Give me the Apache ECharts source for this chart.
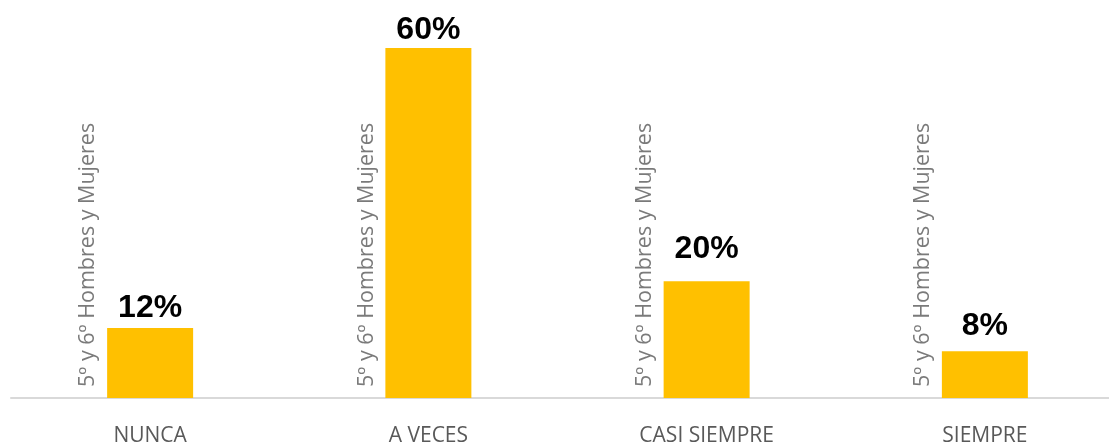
<!DOCTYPE html>
<html>
<head>
<meta charset="utf-8">
<script src="https://cdn.jsdelivr.net/npm/echarts@6/dist/echarts.min.js"></script>
<style>
  html, body { margin: 0; padding: 0; background: #fff; }
  #chart { width: 1109px; height: 443px; }
</style>
</head>
<body>
<div id="chart"></div>
<script>
var categories = ['NUNCA', 'A VECES', 'CASI SIEMPRE', 'SIEMPRE'];
var seriesName = '5º y 6º Hombres y Mujeres';
var percentValues = [12, 60, 20, 8];
var nameAnchors = [0, 0, 0, 0];

// gap between each value label and its bar (labels were nudged by hand in the original)
var labelGap = [4, 2, 16, 9];

var chart = echarts.init(document.getElementById('chart'));

chart.setOption({
  animation: false,
  grid: {
    left: 11,
    right: -15,
    top: 48,
    bottom: 45,
    outerBoundsMode: 'none'
  },
  xAxis: {
    type: 'category',
    data: categories,
    axisLine: { lineStyle: { color: '#d9d9d9', width: 2 } },
    axisTick: { show: false },
    axisLabel: {
      color: '#595959',
      fontFamily: 'Open Sans',
      fontSize: 21,
      margin: 28
    }
  },
  yAxis: {
    type: 'value',
    min: 0,
    max: 60,
    show: false,
    splitLine: { show: false }
  },
  series: [
    {
      name: seriesName,
      type: 'bar',
      barWidth: 86,
      data: percentValues.map(function (v, i) {
        return { value: v, label: { distance: labelGap[i] } };
      }),
      itemStyle: { color: '#ffc000' },
      label: {
        show: true,
        position: 'top',
        formatter: '{c}%',
        color: '#000',
        fontFamily: 'Liberation Sans',
        fontWeight: 'bold',
        fontSize: 32
      }
    },
    {
      name: seriesName,
      type: 'scatter',
      symbolSize: 0,
      silent: true,
      data: nameAnchors,
      label: {
        show: true,
        position: 'inside',
        align: 'left',
        verticalAlign: 'middle',
        rotate: 90,
        offset: [11, -62],
        formatter: '{a}',
        color: '#595959',
        fontFamily: 'Open Sans',
        fontSize: 21.5
      }
    }
  ]
});
</script>
</body>
</html>
